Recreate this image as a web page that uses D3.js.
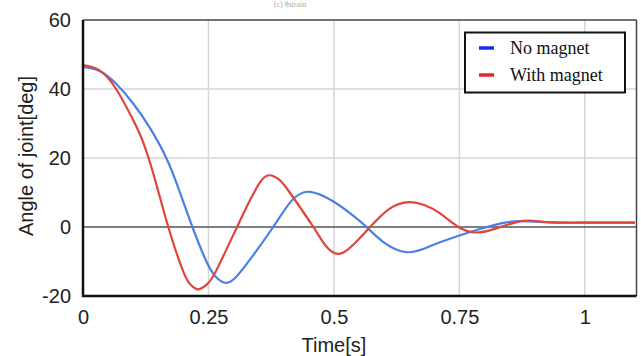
<!DOCTYPE html>
<html><head><meta charset="utf-8">
<script src="https://cdn.jsdelivr.net/npm/d3@7/dist/d3.min.js"></script>
<style>body{margin:0;background:#fff}svg{display:block}</style>
</head><body>
<svg id="c" width="641" height="356"></svg>
<script>
const seriesNames = ["No magnet", "With magnet"];
const noMagnetT = [0, 0.033, 0.066, 0.1, 0.133, 0.166, 0.192, 0.218, 0.246, 0.265, 0.285, 0.305, 0.333, 0.379, 0.415, 0.452, 0.499, 0.532, 0.565, 0.598, 0.645, 0.691, 0.731, 0.791, 0.831, 0.87, 0.92, 1.0, 1.1];
const noMagnetV = [46.4, 45.2, 41.5, 35.8, 28.8, 20.0, 10.5, 0, -10.0, -14.5, -16.2, -14.5, -9.4, 0, 7.5, 10.2, 7.4, 4.0, 0, -4.3, -7.3, -5.6, -3.4, -0.6, 1.0, 1.7, 1.4, 1.25, 1.25];
const withMagnetT = [0, 0.033, 0.066, 0.1, 0.12, 0.143, 0.17, 0.2, 0.215, 0.23, 0.248, 0.266, 0.307, 0.333, 0.352, 0.371, 0.392, 0.412, 0.459, 0.484, 0.509, 0.538, 0.572, 0.612, 0.65, 0.68, 0.711, 0.748, 0.784, 0.824, 0.877, 0.924, 1.0, 1.1];
const withMagnetV = [46.9, 45.4, 40.0, 31.0, 24.5, 14.0, 0, -13.0, -16.8, -18.1, -16.5, -12.5, 0, 7.8, 12.8, 15.0, 13.6, 10.0, 0, -5.5, -7.8, -5.2, 0, 5.4, 7.2, 6.4, 4.0, 0, -1.6, -0.4, 1.8, 1.4, 1.25, 1.25];
const xTicks = [0, 0.25, 0.5, 0.75, 1];
const xTickLabels = ["0", "0.25", "0.5", "0.75", "1"];
const yTicks = [-20, 0, 20, 40, 60];
const yTickLabels = ["-20", "0", "20", "40", "60"];

const svg = d3.select("#c");
const L = 83, R = 636.5, T = 20, B = 296;
const x = d3.scaleLinear().domain([0, 1.103]).range([L, R]);
const y = d3.scaleLinear().domain([-20, 60]).range([B, T]);

svg.append("text").attr("x", 290).attr("y", 7).attr("text-anchor", "middle").attr("font-family", "Liberation Serif, serif")
  .attr("font-size", 8).attr("fill", "#aaa").text("(c) θstrain");

svg.append("g").selectAll("line").data(xTicks.slice(1)).join("line")
  .attr("x1", d => x(d)).attr("x2", d => x(d)).attr("y1", T).attr("y2", B)
  .attr("stroke", "#d6d6d6").attr("stroke-width", 1.5);
svg.append("g").selectAll("line").data([20, 40]).join("line")
  .attr("x1", L).attr("x2", R).attr("y1", d => y(d)).attr("y2", d => y(d))
  .attr("stroke", "#d6d6d6").attr("stroke-width", 1.5);
svg.append("line").attr("x1", L).attr("x2", R).attr("y1", y(0)).attr("y2", y(0))
  .attr("stroke", "#555").attr("stroke-width", 1.5);

const xAxis = d3.axisBottom(x).tickValues(xTicks).tickFormat((d, i) => xTickLabels[i]).tickSize(0).tickPadding(14);
const gx = svg.append("g").attr("transform", `translate(0,${B})`).call(xAxis);
gx.select(".domain").remove();
gx.selectAll("text").attr("font-family", "Liberation Sans, Arial, sans-serif").attr("font-size", 20).attr("fill", "#222");
const yAxis = d3.axisLeft(y).tickValues(yTicks).tickFormat((d, i) => yTickLabels[i]).tickSize(0).tickPadding(12);
const gy = svg.append("g").attr("transform", `translate(${L},0)`).call(yAxis);
gy.select(".domain").remove();
gy.selectAll("text").attr("font-family", "Liberation Sans, Arial, sans-serif").attr("font-size", 20).attr("fill", "#222");

const line = d3.line().x(d => x(d[0])).y(d => y(d[1])).curve(d3.curveNatural);
const blueData = noMagnetT.map((t, i) => [t, noMagnetV[i]]);
const redData = withMagnetT.map((t, i) => [t, withMagnetV[i]]);
svg.append("path").datum(blueData).attr("d", line).attr("fill", "none").attr("stroke", "#4a80e6").attr("stroke-width", 2.2);
svg.append("path").datum(redData).attr("d", line).attr("fill", "none").attr("stroke", "#e0453c").attr("stroke-width", 2.2);

svg.append("line").attr("x1", L).attr("x2", R).attr("y1", T).attr("y2", T).attr("stroke", "#444").attr("stroke-width", 1.5);
svg.append("line").attr("x1", R).attr("x2", R).attr("y1", T).attr("y2", B).attr("stroke", "#444").attr("stroke-width", 1.5);
svg.append("line").attr("x1", L).attr("x2", L).attr("y1", T).attr("y2", B + 1).attr("stroke", "#111").attr("stroke-width", 2.5);
svg.append("line").attr("x1", L - 1).attr("x2", R).attr("y1", B).attr("y2", B).attr("stroke", "#111").attr("stroke-width", 2.5);

svg.append("text").attr("x", x(0.5)).attr("y", 352).attr("text-anchor", "middle")
  .attr("font-family", "Liberation Sans, Arial, sans-serif").attr("font-size", 20).attr("fill", "#222").text("Time[s]");
svg.append("text").attr("transform", `translate(33,${(T + B) / 2 - 2}) rotate(-90)`).attr("text-anchor", "middle")
  .attr("font-family", "Liberation Sans, Arial, sans-serif").attr("font-size", 20).attr("fill", "#222").text("Angle of joint[deg]");

const lg = svg.append("g");
lg.append("rect").attr("x", 465).attr("y", 32.5).attr("width", 160).attr("height", 60)
  .attr("fill", "#fff").attr("stroke", "#111").attr("stroke-width", 2);
const legColors = ["#1a2cf0", "#e8262a"];
seriesNames.forEach((n, i) => {
  const yy = 48 + i * 27;
  lg.append("line").attr("x1", 479).attr("x2", 494).attr("y1", yy).attr("y2", yy)
    .attr("stroke", legColors[i]).attr("stroke-width", 3.5);
  lg.append("text").attr("x", 510).attr("y", yy + 6).attr("font-family", "Liberation Serif, Times New Roman, serif")
    .attr("font-size", 18).attr("fill", "#111").text(n);
});
</script>
</body></html>
